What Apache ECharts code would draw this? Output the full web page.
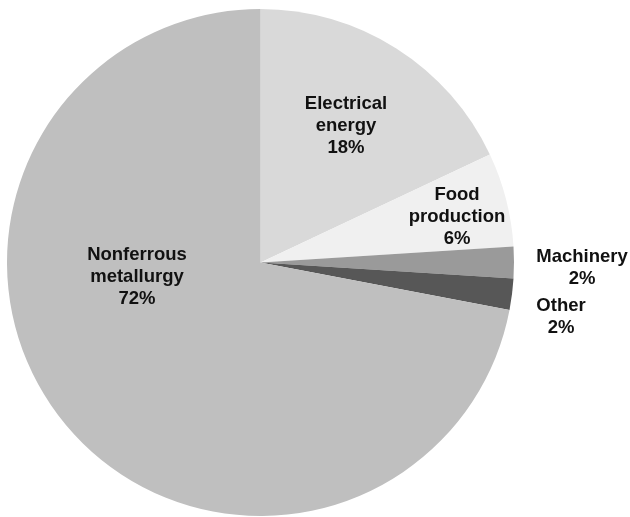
<!DOCTYPE html>
<html>
<head>
<meta charset="utf-8">
<script src="https://cdn.jsdelivr.net/npm/echarts@6/dist/echarts.min.js"></script>
<style>
html,body{margin:0;padding:0;background:#fff;}
#chart{width:630px;height:517px;}
</style>
</head>
<body>
<div id="chart"></div>
<script>
const categories = ["Electrical\nenergy", "Food\nproduction", "Machinery", "Other", "Nonferrous\nmetallurgy"];
const values = [18, 6, 2, 2, 72];
const colors = ["#d9d9d9", "#f0f0f0", "#9a9a9a", "#575757", "#bfbfbf"];
// label centers (px) for each slice
const labelPos = [[346, 126], [457, 217], [582, 268], [561, 317], [137, 277]];

const chart = echarts.init(document.getElementById('chart'));
chart.setOption({
  animation: false,
  series: [{
    type: 'pie',
    center: [260.5, 262.5],
    radius: 253.5,
    startAngle: 90,
    clockwise: true,
    label: {
      show: true,
      position: 'inside',
      formatter: p => p.name + '\n' + p.value + '%',
      fontFamily: 'Liberation Sans, Arial, Helvetica, sans-serif',
      fontWeight: 'bold',
      fontSize: 18.5,
      lineHeight: 22,
      color: '#111',
      align: 'center'
    },
    labelLine: { show: false },
    labelLayout: function (params) {
      const p = labelPos[params.dataIndex];
      return { x: p[0], y: p[1], align: 'center', verticalAlign: 'middle' };
    },
    itemStyle: { borderWidth: 0 },
    emphasis: { disabled: true },
    data: categories.map((c, i) => ({ name: c, value: values[i], itemStyle: { color: colors[i] } }))
  }]
});
</script>
</body>
</html>
